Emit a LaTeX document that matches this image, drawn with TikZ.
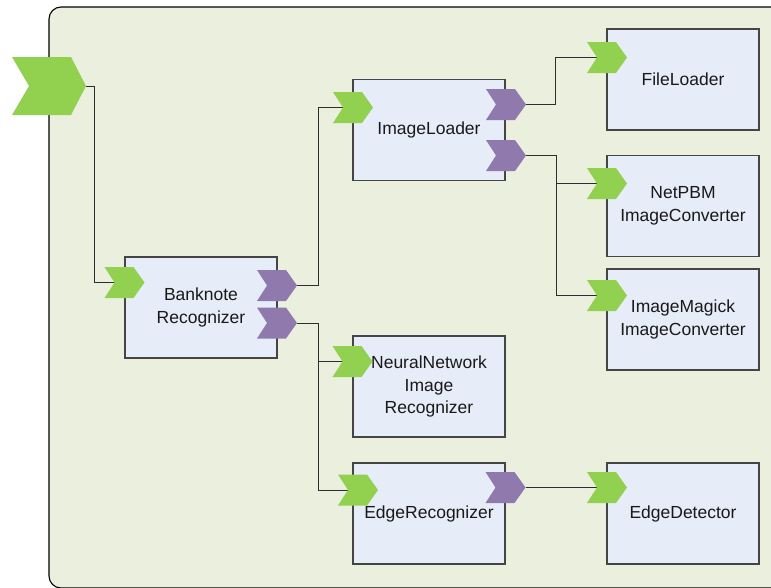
\documentclass[tikz,border=0pt]{standalone}
\usepackage{fontspec}
\setmainfont{Liberation Sans}
\usetikzlibrary{backgrounds,calc}
\definecolor{panelbg}{HTML}{EBEFDE}
\definecolor{boxbg}{HTML}{E6EDF8}
\definecolor{chevgreen}{HTML}{92D050}
\definecolor{chevpurple}{HTML}{9079AD}
\definecolor{linegray}{HTML}{2E2E2E}
\definecolor{boxline}{HTML}{454545}
\newcommand{\chevtip}{11pt}
\newcommand{\chevnotch}{10pt}
\tikzset{
  chevtipd/.code={\renewcommand{\chevtip}{#1}},
  chevnotchd/.code={\renewcommand{\chevnotch}{#1}},
  chev/.style={minimum width=40pt, minimum height=31pt, inner sep=0pt, outer sep=0pt,
    path picture={
      \fill[#1] (path picture bounding box.south west)
        -- ([xshift=-\chevtip]path picture bounding box.south east)
        -- (path picture bounding box.east)
        -- ([xshift=-\chevtip]path picture bounding box.north east)
        -- (path picture bounding box.north west)
        -- ([xshift=\chevnotch]path picture bounding box.west) -- cycle;}},
  inchev/.style={chev=chevgreen},
  outchev/.style={chev=chevpurple},
  compbox/.style={draw=boxline, line width=1.4pt, fill=boxbg, minimum width=152pt,
    minimum height=101pt, inner sep=2pt, align=center, text=black!90,
    font=\fontsize{17.5}{22.5}\selectfont},
  wire/.style={draw=linegray, line width=1pt}
}
\begin{document}
\begin{tikzpicture}[x=1pt,y=-1pt]
\useasboundingbox (0,0) rectangle (771,587);
\begin{scope}[on background layer]
  \fill[white] (0,0) rectangle (771,587);
  \draw[fill=panelbg, line width=1.1pt, draw=black, rounded corners=12pt] (49,7) rectangle (800,588);
\end{scope}

% component boxes
\node[compbox] (bn) at (201,307.5) {Banknote\\Recognizer};
\node[compbox] (il) at (429,130) {ImageLoader};
\node[compbox] (fl) at (683,79.5) {FileLoader};
\node[compbox] (np) at (683,206) {NetPBM\\ImageConverter};
\node[compbox] (im) at (683,319.5) {ImageMagick\\ImageConverter};
\node[compbox] (nn) at (429,386.5) {NeuralNetwork\\Image\\Recognizer};
\node[compbox] (er) at (429,513.5) {EdgeRecognizer};
\node[compbox] (ed) at (683,513.5) {EdgeDetector};

% ports
\node[inchev, minimum width=74pt, minimum height=58pt, chevtipd=15pt, chevnotchd=17pt] (in0) at (49,86) {};
\node[inchev] (bnin) at (124.5,282.5) {};
\node[outchev] (bnout1) at (277,285.5) {};
\node[outchev] (bnout2) at (277,323) {};
\node[inchev] (ilin) at (353,107.5) {};
\node[outchev] (ilout1) at (506,104.5) {};
\node[outchev] (ilout2) at (506,155.5) {};
\node[inchev] (flin) at (607,57.5) {};
\node[inchev] (npin) at (607,183.5) {};
\node[inchev] (imin) at (607,295.5) {};
\node[inchev] (nnin) at (352.5,361.5) {};
\node[inchev] (erin) at (358,490) {};
\node[outchev] (erout) at (505.5,487.5) {};
\node[inchev] (edin) at (607,487.5) {};

% connectors
\begin{scope}[on background layer]
  \draw[wire] (in0.east) -- ++(8,0) |- (bnin.center);
  \draw[wire] (bnout1.east) -- ++(21,0) |- (ilin.center);
  \draw[wire] (bnout2.east) -- ++(21,0) |- (nnin.center);
  \draw[wire] (bnout2.east) -- ++(21,0) |- (erin.center);
  \draw[wire] (ilout1.east) -- ++(29,0) |- (flin.center);
  \draw[wire] (ilout2.east) -- ++(30,0) |- (npin.center);
  \draw[wire] (ilout2.east) -- ++(30,0) |- (imin.center);
  \draw[wire] (erout.east) -- (edin.center);
\end{scope}
\end{tikzpicture}
\end{document}
